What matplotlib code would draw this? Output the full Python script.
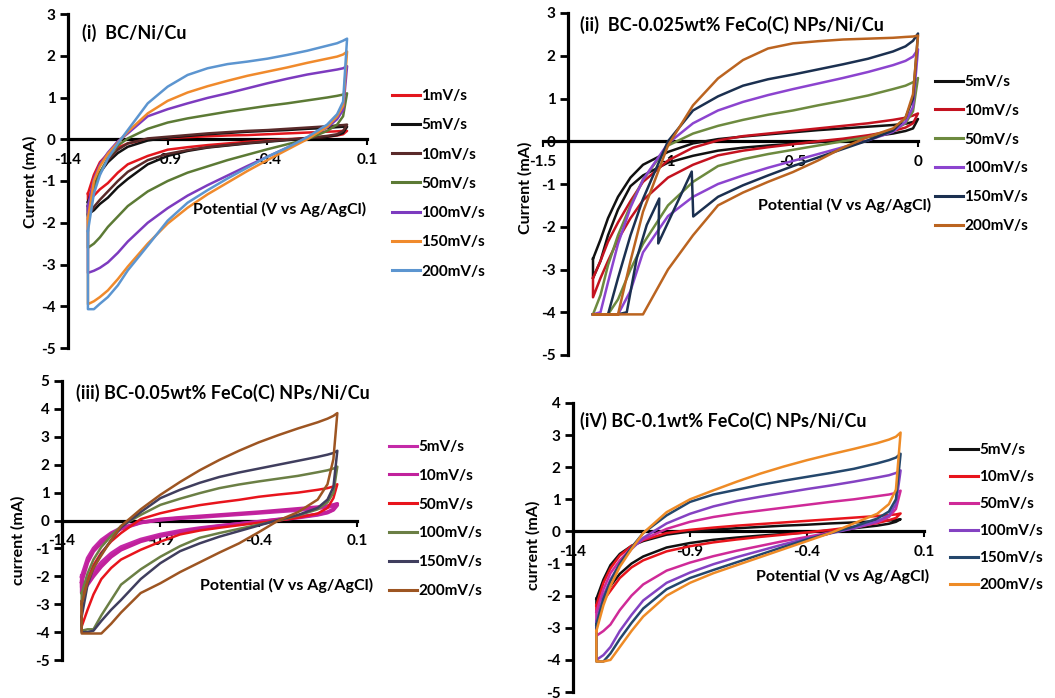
import matplotlib
matplotlib.use("Agg")
import matplotlib.pyplot as plt

plt.rcParams['font.family'] = ['Lato', 'DejaVu Sans']
plt.rcParams['font.weight'] = 'bold'
plt.rcParams['axes.unicode_minus'] = False

W, H = 1055, 698

# potential grid (V vs Ag/AgCl), shared by anodic (up) and cathodic (dn) branches
E_GRID = [-1.3, -1.27, -1.24, -1.2, -1.15, -1.1, -1.0, -0.9, -0.8, -0.7,
          -0.6, -0.5, -0.4, -0.3, -0.2, -0.1, -0.05, -0.02, 0.0]

# ---- (i) BC/Ni/Cu ----
LABELS_1 = ['1mV/s', '5mV/s', '10mV/s', '50mV/s', '100mV/s', '150mV/s', '200mV/s']
UP_1 = [
    [-1.3, -0.85, -0.55, -0.35, -0.2, -0.1, 0.0, 0.03, 0.05, 0.07, 0.09, 0.1, 0.12, 0.14, 0.16, 0.18, 0.19, 0.2, 0.2],
    [-1.5, -1.1, -0.8, -0.55, -0.33, -0.18, -0.03, 0.04, 0.08, 0.12, 0.15, 0.18, 0.2, 0.22, 0.25, 0.27, 0.29, 0.3, 0.3],
    [-1.6, -1.15, -0.8, -0.5, -0.25, -0.1, 0.02, 0.06, 0.1, 0.14, 0.17, 0.2, 0.22, 0.25, 0.28, 0.31, 0.33, 0.34, 0.35],
    [-1.8, -1.2, -0.8, -0.45, -0.15, 0.02, 0.25, 0.4, 0.5, 0.58, 0.66, 0.73, 0.8, 0.86, 0.93, 1.0, 1.04, 1.07, 1.1],
    [-1.6, -0.95, -0.6, -0.32, -0.05, 0.14, 0.55, 0.72, 0.86, 0.99, 1.1, 1.22, 1.34, 1.45, 1.55, 1.63, 1.67, 1.7, 1.75],
    [-1.9, -1.0, -0.65, -0.35, -0.08, 0.18, 0.62, 0.92, 1.12, 1.27, 1.4, 1.52, 1.62, 1.72, 1.83, 1.93, 1.98, 2.03, 2.1],
    [-2.2, -1.3, -0.86, -0.46, -0.1, 0.22, 0.86, 1.26, 1.54, 1.7, 1.8, 1.86, 1.93, 2.02, 2.12, 2.24, 2.3, 2.36, 2.41],
]
DN_1 = [
    [-1.45, -1.35, -1.2, -1.05, -0.8, -0.6, -0.4, -0.25, -0.19, -0.14, -0.1, -0.06, -0.03, 0.0, 0.03, 0.06, 0.09, 0.12, 0.2],
    [-1.8, -1.7, -1.55, -1.4, -1.15, -0.95, -0.6, -0.4, -0.28, -0.2, -0.15, -0.1, -0.06, -0.02, 0.02, 0.06, 0.1, 0.15, 0.3],
    [-1.85, -1.62, -1.45, -1.25, -1.0, -0.78, -0.5, -0.35, -0.26, -0.19, -0.14, -0.09, -0.05, -0.01, 0.03, 0.08, 0.12, 0.2, 0.35],
    [-2.6, -2.5, -2.35, -2.1, -1.85, -1.6, -1.25, -1.0, -0.8, -0.65, -0.5, -0.37, -0.24, -0.12, 0.0, 0.2, 0.35, 0.55, 1.1],
    [-3.2, -3.15, -3.08, -2.95, -2.72, -2.45, -2.0, -1.65, -1.35, -1.1, -0.87, -0.64, -0.42, -0.2, 0.04, 0.28, 0.48, 0.7, 1.75],
    [-3.95, -3.88, -3.78, -3.62, -3.35, -3.05, -2.5, -2.02, -1.64, -1.32, -1.04, -0.76, -0.5, -0.25, 0.0, 0.3, 0.55, 0.8, 2.1],
    [-4.07, -4.07, -3.94, -3.78, -3.5, -3.14, -2.55, -1.95, -1.52, -1.22, -0.94, -0.68, -0.42, -0.2, 0.05, 0.35, 0.6, 0.9, 2.41],
]

# ---- (ii) BC-0.025wt% ----
LABELS_2 = ['5mV/s', '10mV/s', '50mV/s', '100mV/s', '150mV/s', '200mV/s']
UP_2 = [
    [-2.75, -2.3, -1.8, -1.3, -0.85, -0.55, -0.25, -0.05, 0.05, 0.11, 0.16, 0.21, 0.26, 0.3, 0.34, 0.38, 0.41, 0.45, 0.52],
    [-3.2, -2.8, -2.35, -1.9, -1.4, -0.95, -0.45, -0.15, 0.02, 0.12, 0.18, 0.24, 0.3, 0.36, 0.42, 0.5, 0.55, 0.6, 0.65],
    [-4.05, -3.6, -2.9, -2.2, -1.5, -0.9, -0.1, 0.18, 0.36, 0.5, 0.62, 0.72, 0.84, 0.95, 1.07, 1.22, 1.3, 1.38, 1.48],
    [-4.05, -4.0, -3.3, -2.4, -1.55, -0.9, -0.05, 0.42, 0.72, 0.92, 1.08, 1.22, 1.35, 1.48, 1.62, 1.78, 1.88, 1.98, 2.15],
    [-4.05, -4.05, -4.05, -3.2, -2.2, -1.35, 0.0, 0.72, 1.05, 1.3, 1.45, 1.56, 1.68, 1.8, 1.93, 2.1, 2.22, 2.35, 2.52],
    [-4.05, -4.05, -4.05, -4.05, -2.8, -1.65, -0.1, 0.84, 1.47, 1.9, 2.17, 2.29, 2.34, 2.38, 2.4, 2.42, 2.44, 2.45, 2.47],
]
DN_2 = [
    [-3.2, -2.8, -2.2, -1.6, -1.05, -0.8, -0.5, -0.34, -0.22, -0.15, -0.1, -0.06, -0.02, 0.03, 0.1, 0.18, 0.24, 0.3, 0.52],
    [-3.65, -3.2, -2.8, -2.3, -1.8, -1.38, -0.85, -0.55, -0.33, -0.22, -0.14, -0.07, 0.0, 0.06, 0.14, 0.24, 0.32, 0.42, 0.65],
    [-4.05, -4.05, -4.05, -3.7, -3.0, -2.4, -1.5, -0.95, -0.58, -0.42, -0.3, -0.2, -0.1, 0.0, 0.1, 0.25, 0.42, 0.7, 1.48],
    [-4.05, -4.05, -4.05, -4.05, -3.5, -2.6, -1.75, -1.3, -1.0, -0.8, -0.62, -0.46, -0.3, -0.14, 0.02, 0.22, 0.45, 0.8, 2.15],
    None,  # 150mV/s cathodic branch has glitches, given separately below
    [-4.05, -4.05, -4.05, -4.05, -4.05, -4.05, -3.0, -2.2, -1.5, -1.2, -0.95, -0.72, -0.45, -0.15, 0.1, 0.3, 0.55, 1.1, 2.47],
]
E_DN_2_150 = [-1.3, -1.27, -1.24, -1.2, -1.165, -1.125, -1.085, -1.035, -1.039, -0.905, -0.899,
              -0.8, -0.7, -0.6, -0.5, -0.4, -0.3, -0.2, -0.1, -0.05, -0.02, 0.0]
I_DN_2_150 = [-4.05, -4.05, -4.05, -4.05, -4.0, -2.74, -1.96, -1.34, -2.39, -0.71, -1.76,
              -1.3, -1.03, -0.8, -0.58, -0.38, -0.18, 0.02, 0.25, 0.55, 1.0, 2.52]

# ---- (iii) BC-0.05wt% ----
LABELS_3 = ['5mV/s', '10mV/s', '50mV/s', '100mV/s', '150mV/s', '200mV/s']
UP_3 = [
    [-2.0, -1.35, -1.0, -0.7, -0.45, -0.27, -0.07, 0.02, 0.08, 0.12, 0.17, 0.22, 0.27, 0.32, 0.37, 0.44, 0.48, 0.52, 0.55],
    [-2.2, -1.5, -1.1, -0.8, -0.5, -0.3, -0.08, 0.04, 0.1, 0.15, 0.2, 0.25, 0.3, 0.36, 0.42, 0.48, 0.52, 0.56, 0.6],
    [-2.9, -2.1, -1.6, -1.15, -0.75, -0.45, 0.05, 0.26, 0.42, 0.55, 0.65, 0.74, 0.85, 0.93, 1.0, 1.1, 1.16, 1.22, 1.3],
    [-2.6, -1.9, -1.4, -0.95, -0.55, -0.2, 0.2, 0.56, 0.78, 0.98, 1.16, 1.29, 1.4, 1.5, 1.6, 1.73, 1.8, 1.86, 1.93],
    [-3.45, -2.3, -1.7, -1.2, -0.7, -0.25, 0.3, 0.8, 1.1, 1.35, 1.56, 1.72, 1.86, 2.0, 2.14, 2.28, 2.36, 2.42, 2.5],
    [-3.0, -2.2, -1.7, -1.25, -0.7, -0.2, 0.4, 0.92, 1.38, 1.8, 2.17, 2.5, 2.8, 3.06, 3.3, 3.52, 3.65, 3.75, 3.85],
]
DN_3 = [
    [-2.4, -2.15, -1.85, -1.5, -1.18, -0.95, -0.68, -0.5, -0.37, -0.27, -0.19, -0.12, -0.05, 0.03, 0.1, 0.2, 0.28, 0.38, 0.55],
    [-2.6, -2.3, -2.0, -1.65, -1.3, -1.05, -0.75, -0.56, -0.42, -0.3, -0.2, -0.12, -0.04, 0.04, 0.12, 0.22, 0.3, 0.4, 0.6],
    [-3.8, -3.2, -2.65, -2.1, -1.7, -1.4, -1.05, -0.76, -0.5, -0.36, -0.26, -0.17, -0.08, 0.0, 0.1, 0.25, 0.45, 0.8, 1.3],
    [-3.95, -3.9, -3.9, -3.4, -2.85, -2.3, -1.75, -1.3, -0.92, -0.62, -0.45, -0.3, -0.15, 0.0, 0.18, 0.4, 0.65, 1.0, 1.93],
    [-4.0, -4.0, -3.95, -3.6, -3.2, -2.85, -2.1, -1.53, -1.1, -0.82, -0.58, -0.38, -0.18, 0.02, 0.2, 0.45, 0.75, 1.2, 2.5],
    [-4.05, -4.05, -4.05, -4.05, -3.7, -3.3, -2.6, -2.25, -1.85, -1.5, -1.15, -0.82, -0.42, 0.0, 0.3, 0.75, 1.3, 2.2, 3.85],
]

# ---- (iv) BC-0.1wt% ----
LABELS_4 = ['5mV/s', '10mV/s', '50mV/s', '100mV/s', '150mV/s', '200mV/s']
UP_4 = [
    [-2.1, -1.5, -1.05, -0.7, -0.45, -0.3, -0.1, 0.0, 0.06, 0.1, 0.14, 0.18, 0.21, 0.25, 0.28, 0.32, 0.34, 0.36, 0.38],
    [-2.3, -1.6, -1.15, -0.75, -0.45, -0.27, -0.05, 0.05, 0.12, 0.18, 0.23, 0.28, 0.33, 0.38, 0.43, 0.48, 0.51, 0.53, 0.56],
    [-2.5, -1.8, -1.3, -0.9, -0.5, -0.25, 0.08, 0.3, 0.45, 0.56, 0.65, 0.74, 0.83, 0.92, 1.0, 1.1, 1.15, 1.2, 1.27],
    [-2.8, -2.0, -1.5, -1.0, -0.55, -0.2, 0.25, 0.55, 0.78, 0.95, 1.08, 1.2, 1.32, 1.43, 1.55, 1.68, 1.75, 1.82, 1.9],
    [-2.9, -2.1, -1.55, -1.0, -0.5, -0.05, 0.5, 0.92, 1.15, 1.3, 1.45, 1.58, 1.7, 1.82, 1.95, 2.12, 2.22, 2.3, 2.42],
    [-3.1, -2.3, -1.7, -1.1, -0.55, -0.05, 0.6, 1.0, 1.28, 1.55, 1.8, 2.02, 2.22, 2.4, 2.57, 2.75, 2.86, 2.95, 3.08],
]
DN_4 = [
    [-2.25, -2.0, -1.7, -1.32, -1.0, -0.78, -0.5, -0.36, -0.26, -0.19, -0.13, -0.08, -0.03, 0.03, 0.1, 0.18, 0.24, 0.3, 0.38],
    [-2.5, -2.15, -1.85, -1.45, -1.12, -0.9, -0.62, -0.46, -0.34, -0.25, -0.17, -0.1, -0.03, 0.05, 0.14, 0.26, 0.35, 0.42, 0.56],
    [-3.25, -3.1, -2.9, -2.45, -2.0, -1.65, -1.22, -0.97, -0.77, -0.6, -0.45, -0.3, -0.17, -0.03, 0.1, 0.28, 0.45, 0.7, 1.27],
    [-4.0, -3.85, -3.6, -3.1, -2.6, -2.15, -1.6, -1.28, -1.02, -0.8, -0.6, -0.4, -0.22, -0.06, 0.1, 0.32, 0.5, 0.85, 1.9],
    [-4.05, -4.05, -3.8, -3.35, -2.85, -2.4, -1.8, -1.45, -1.2, -0.96, -0.72, -0.48, -0.25, -0.05, 0.15, 0.4, 0.62, 1.0, 2.42],
    [-4.05, -4.05, -4.0, -3.6, -3.1, -2.65, -2.0, -1.6, -1.3, -1.05, -0.8, -0.55, -0.3, -0.05, 0.25, 0.55, 0.85, 1.3, 3.08],
]

COLORS_1 = ['#e3161d', '#111111', '#5a2a2a', '#5c7a35', '#7d3bbf', '#f08a2c', '#5c95d0']
COLORS_2 = ['#111111', '#c4121f', '#6d8a3f', '#8c44cf', '#1b3050', '#bb6420']
COLORS_3 = ['#c42aa8', '#c1219c', '#e8141c', '#6b7f45', '#403e5e', '#9d5522']
COLORS_4 = ['#111111', '#e8141c', '#cf2a98', '#8442c2', '#24476c', '#ee8b26']

fig = plt.figure(figsize=(W / 100, H / 100), dpi=100)


def fx(x):
    return x / W


def fy(y):
    return 1 - y / H


def add_panel(x0, x1, y0, y1):
    # box in pixel coordinates of the picture (y measured from top)
    return fig.add_axes([fx(x0), fy(y1), (x1 - x0) / W, (y1 - y0) / H])


def style_axes(ax, xlim, ylim, xticks, xticklabels, yaxis_at):
    ax.set_xlim(xlim)
    ax.set_ylim(ylim)
    ax.patch.set_alpha(0)
    ax.spines['top'].set_visible(False)
    ax.spines['right'].set_visible(False)
    ax.spines['left'].set_position(('data', yaxis_at))
    ax.spines['bottom'].set_position(('data', 0))
    for s in ('left', 'bottom'):
        ax.spines[s].set_linewidth(2.3)
        ax.spines[s].set_zorder(1)
    ax.set_yticks(range(ylim[0], ylim[1] + 1))
    ax.set_xticks(xticks)
    ax.set_xticklabels(xticklabels)
    ax.tick_params(axis='y', direction='out', length=6, width=2, labelsize=11, pad=3)
    ax.tick_params(axis='x', direction='out', length=4, width=1.5, labelsize=11, pad=6)


def plot_cv(ax, e_up, i_up, e_dn, i_dn, color, label, lw=1.8):
    # anodic sweep left->right, cathodic sweep back right->left, closed at the start
    x = list(e_up) + list(e_dn)[::-1] + [e_up[0]]
    y = list(i_up) + list(i_dn)[::-1] + [i_up[0]]
    ax.plot(x, y, color=color, lw=lw, label=label, clip_on=False, zorder=2)


def add_legend(ax, x, y, spacing):
    leg = ax.legend(loc='upper left', bbox_to_anchor=(fx(x), fy(y)), bbox_transform=fig.transFigure,
                    frameon=False, fontsize=11, handlelength=1.85, handletextpad=0.05,
                    labelspacing=spacing, borderpad=0, borderaxespad=0)
    for h in leg.get_lines():
        h.set_linewidth(2.2)


XT_A = [-1.4, -0.9, -0.4, 0.1]
XL_A = ['-1.4', '-0.9', '-0.4', '0.1']
TITLE_FS = 13
LABEL_FS = 11.5

# (i)
ax1 = add_panel(68, 367, 14, 348)
style_axes(ax1, (-1.4, 0.1), (-5, 3), XT_A, XL_A, -1.4)
for up, dn, c, lab in zip(UP_1, DN_1, COLORS_1, LABELS_1):
    plot_cv(ax1, E_GRID, up, E_GRID, dn, c, lab)
add_legend(ax1, 392, 89, 1.0)
fig.text(fx(82), fy(33), '(i)  BC/Ni/Cu', fontsize=TITLE_FS, va='center', ha='left')
fig.text(fx(193), fy(209), 'Potential (V vs Ag/AgCl)', fontsize=LABEL_FS, va='center', ha='left')
fig.text(fx(30), fy(182), 'Current (mA)', fontsize=LABEL_FS, rotation=90, va='center', ha='center')

# (ii)
ax2 = add_panel(543, 918, 13, 355)
style_axes(ax2, (-1.5, 0.0), (-5, 3), [-1.5, -1.0, -0.5, 0.0], ['-1.5', '-1', '-0.5', '0'], -1.4)
for k, (up, c, lab) in enumerate(zip(UP_2, COLORS_2, LABELS_2)):
    if DN_2[k] is None:
        plot_cv(ax2, E_GRID, up, E_DN_2_150, I_DN_2_150, c, lab)
    else:
        plot_cv(ax2, E_GRID, up, E_GRID, DN_2[k], c, lab)
add_legend(ax2, 935, 75, 0.97)
fig.text(fx(580), fy(25), '(ii)  BC-0.025wt% FeCo(C) NPs/Ni/Cu', fontsize=TITLE_FS, va='center', ha='left')
fig.text(fx(758), fy(205), 'Potential (V vs Ag/AgCl)', fontsize=LABEL_FS, va='center', ha='left')
fig.text(fx(525), fy(188), 'Current (mA)', fontsize=LABEL_FS, rotation=90, va='center', ha='center')

# (iii)
ax3 = add_panel(62, 357, 381, 660)
style_axes(ax3, (-1.4, 0.1), (-5, 5), XT_A, XL_A, -1.4)
for k, (up, dn, c, lab) in enumerate(zip(UP_3, DN_3, COLORS_3, LABELS_3)):
    plot_cv(ax3, E_GRID, up, E_GRID, dn, c, lab, lw=2.6 if k < 2 else 1.8)
add_legend(ax3, 389, 440, 0.97)
fig.text(fx(76), fy(393), '(iii) BC-0.05wt% FeCo(C) NPs/Ni/Cu', fontsize=TITLE_FS, va='center', ha='left')
fig.text(fx(200), fy(585), 'Potential (V vs Ag/AgCl)', fontsize=LABEL_FS, va='center', ha='left')
fig.text(fx(18), fy(540), 'current (mA)', fontsize=LABEL_FS, rotation=90, va='center', ha='center')

# (iv)
ax4 = add_panel(573, 924, 403, 692)
style_axes(ax4, (-1.4, 0.1), (-5, 4), XT_A, XL_A, -1.4)
for up, dn, c, lab in zip(UP_4, DN_4, COLORS_4, LABELS_4):
    plot_cv(ax4, E_GRID, up, E_GRID, dn, c, lab)
add_legend(ax4, 950, 443, 0.85)
fig.text(fx(580), fy(421), '(iV) BC-0.1wt% FeCo(C) NPs/Ni/Cu', fontsize=TITLE_FS, va='center', ha='left')
fig.text(fx(756), fy(576), 'Potential (V vs Ag/AgCl)', fontsize=LABEL_FS, va='center', ha='left')
fig.text(fx(533), fy(545), 'current (mA)', fontsize=LABEL_FS, rotation=90, va='center', ha='center')

fig.savefig('out.png', dpi=100)
